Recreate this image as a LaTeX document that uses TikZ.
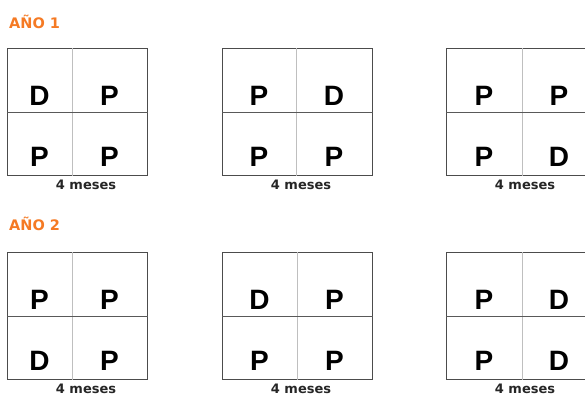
\documentclass[tikz,border=0pt]{standalone}
\usepackage{fontspec}
\setmainfont{Liberation Sans}
\newfontfamily\rotulo{DejaVu Sans}
\usetikzlibrary{positioning}
\definecolor{naranja}{RGB}{245,122,36}

\tikzset{
  caja/.style={draw=black!70, line width=1pt, minimum width=#1, minimum height=127pt, inner sep=0pt, anchor=north west},
  divh/.style={draw=black!65, line width=1pt},
  divv/.style={draw=black!25, line width=0.8pt},
  letra/.style={font=\fontsize{28}{28}\selectfont\bfseries, anchor=base, inner sep=0pt},
  meses/.style={font=\rotulo\fontsize{13}{13}\selectfont\bfseries, text=black!85, inner sep=0pt},
  titulo/.style={font=\rotulo\fontsize{14.5}{14.5}\selectfont\bfseries, text=naranja, anchor=west, inner sep=0pt}
}

\begin{document}
\begin{tikzpicture}[x=1pt, y=-1pt]
  \useasboundingbox (0,0) rectangle (585,396);

  \node[titulo] (ano1) at (9,22) {AÑO 1};
  \node[titulo] (ano2) at (9,224) {AÑO 2};

  % fila / caja / izquierda / ancho / division / arriba / letras
  \foreach \r/\i/\x/\w/\d/\y/\la/\lb/\lc/\ld in {
      1/1/7/140/65/48/D/P/P/P,
      1/2/222/150/74/48/P/D/P/P,
      1/3/446/150/76/48/P/P/P/D,
      2/1/7/140/65/252/P/P/D/P,
      2/2/222/150/75/252/D/P/P/P,
      2/3/446/150/76/252/P/D/P/D}{
    \node[caja=\w pt] (b\r\i) at (\x,\y) {};
    \draw[divv] ([xshift=\d pt]b\r\i.north west) -- ([xshift=\d pt]b\r\i.south west);
    \draw[divh] (b\r\i.west) -- (b\r\i.east);
    \node[letra] (l\r\i a) at ([xshift=\d/2 pt, yshift=7pt]b\r\i.west) {\la};
    \node[letra] (l\r\i b) at ([xshift=\d/2 pt+\w/2 pt, yshift=7pt]b\r\i.west) {\lb};
    \node[letra] (l\r\i c) at ([xshift=\d/2 pt, yshift=-54pt]b\r\i.west) {\lc};
    \node[letra] (l\r\i d) at ([xshift=\d/2 pt+\w/2 pt, yshift=-54pt]b\r\i.west) {\ld};
    \node[meses, below=3.5pt of b\r\i.south west, xshift=79pt] (m\r\i) {4 meses};
  }
\end{tikzpicture}
\end{document}
